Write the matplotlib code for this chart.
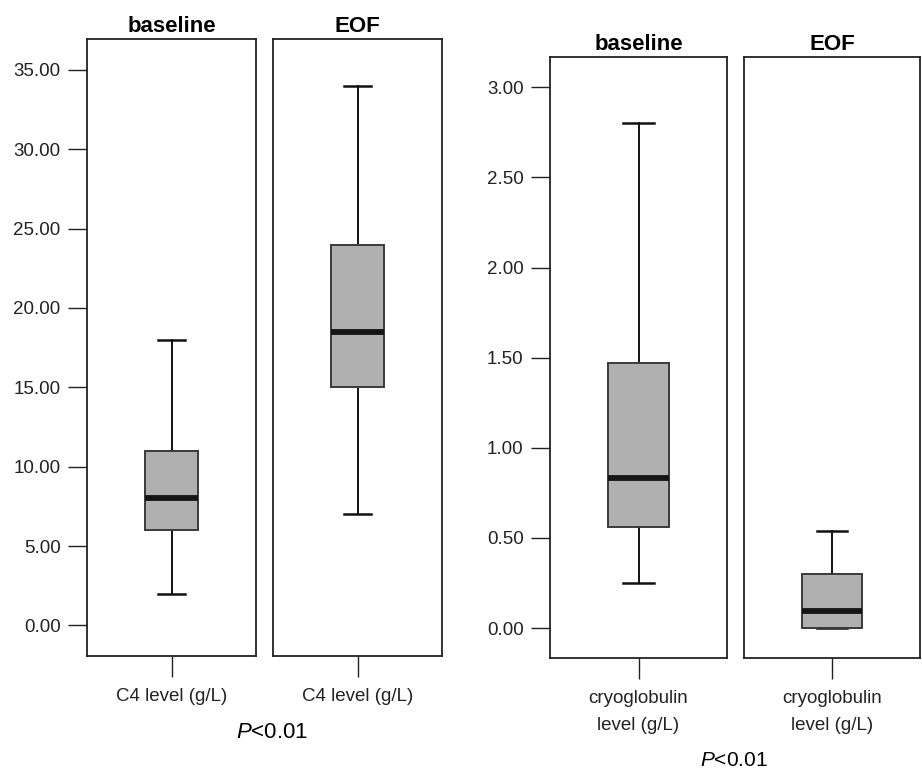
import matplotlib
matplotlib.use("Agg")
import matplotlib.pyplot as plt

plt.rcParams["font.family"] = ["Liberation Sans", "DejaVu Sans"]
plt.rcParams["mathtext.fontset"] = "custom"
plt.rcParams["mathtext.it"] = "Liberation Sans:italic"
plt.rcParams["mathtext.rm"] = "Liberation Sans"

# data
groups = ["baseline", "EOF"]

c4_label = "C4 level (g/L)"
c4_whislo = [2.0, 7.0]
c4_q1 = [6.0, 15.0]
c4_med = [8.0, 18.5]
c4_q3 = [11.0, 24.0]
c4_whishi = [18.0, 34.0]
c4_ticks = [0, 5, 10, 15, 20, 25, 30, 35]
c4_ylim = (-1.93, 36.95)

cryo_label = "cryoglobulin\nlevel (g/L)"
cryo_whislo = [0.25, 0.0]
cryo_q1 = [0.56, 0.0]
cryo_med = [0.835, 0.095]
cryo_q3 = [1.47, 0.30]
cryo_whishi = [2.80, 0.54]
cryo_ticks = [0.0, 0.5, 1.0, 1.5, 2.0, 2.5, 3.0]
cryo_ylim = (-0.166, 3.168)

p_text = "$\\it{P}$<0.01"

W, H = 922, 772
BOX_FILL = "#b0b0b0"
BOX_EDGE = "#3a3a3a"


def px_axes(fig, left, right, top, bottom):
    return fig.add_axes([left / W, (H - bottom) / H, (right - left) / W, (bottom - top) / H])


def draw_box(ax, stat, width, capw, xlabel, title, show_y, ticks, ylim):
    ax.bxp([stat], positions=[1], widths=width, capwidths=capw, showfliers=False,
           patch_artist=True,
           boxprops=dict(facecolor=BOX_FILL, edgecolor=BOX_EDGE, linewidth=1.4, zorder=3),
           medianprops=dict(color="#151515", linewidth=4.2, solid_capstyle="butt", zorder=4),
           whiskerprops=dict(color="#111111", linewidth=1.4, zorder=2),
           capprops=dict(color="#111111", linewidth=1.8, zorder=2))
    ax.set_xlim(0.5, 1.5)
    ax.set_ylim(*ylim)
    ax.set_xticks([1])
    ax.set_xticklabels([xlabel], fontsize=13.5, linespacing=1.75)
    ax.tick_params(axis="x", length=15, width=1.0, pad=8, colors="#222222")
    ax.set_title(title, fontsize=16, fontweight="bold", pad=5)
    if show_y:
        ax.set_yticks(ticks)
        ax.set_yticklabels([f"{t:.2f}" for t in ticks], fontsize=13.5)
        ax.tick_params(axis="y", length=14, width=1.0, pad=5, colors="#222222")
    else:
        ax.set_yticks([])
    for s in ax.spines.values():
        s.set_linewidth(1.3)
        s.set_color("#222222")


def stats(i, lo, q1, med, q3, hi):
    return dict(whislo=lo[i], q1=q1[i], med=med[i], q3=q3[i], whishi=hi[i], fliers=[])


fig = plt.figure(figsize=(W / 100, H / 100), dpi=100)

ax1 = px_axes(fig, 87, 256, 39, 656)
ax2 = px_axes(fig, 273, 442, 39, 656)
ax3 = px_axes(fig, 550, 727, 57, 658)
ax4 = px_axes(fig, 744, 920, 57, 658)

for i, ax in enumerate([ax1, ax2]):
    draw_box(ax, stats(i, c4_whislo, c4_q1, c4_med, c4_q3, c4_whishi),
             0.31, 0.155, c4_label, groups[i], i == 0, c4_ticks, c4_ylim)

for i, ax in enumerate([ax3, ax4]):
    draw_box(ax, stats(i, cryo_whislo, cryo_q1, cryo_med, cryo_q3, cryo_whishi),
             0.345, 0.17, cryo_label, groups[i], i == 0, cryo_ticks, cryo_ylim)

fig.text(272 / W, 1 - 733 / H, p_text, fontsize=16, ha="center", va="center")
fig.text(734 / W, 1 - 760 / H, p_text, fontsize=15, ha="center", va="center")

fig.savefig("out.png", dpi=100)
